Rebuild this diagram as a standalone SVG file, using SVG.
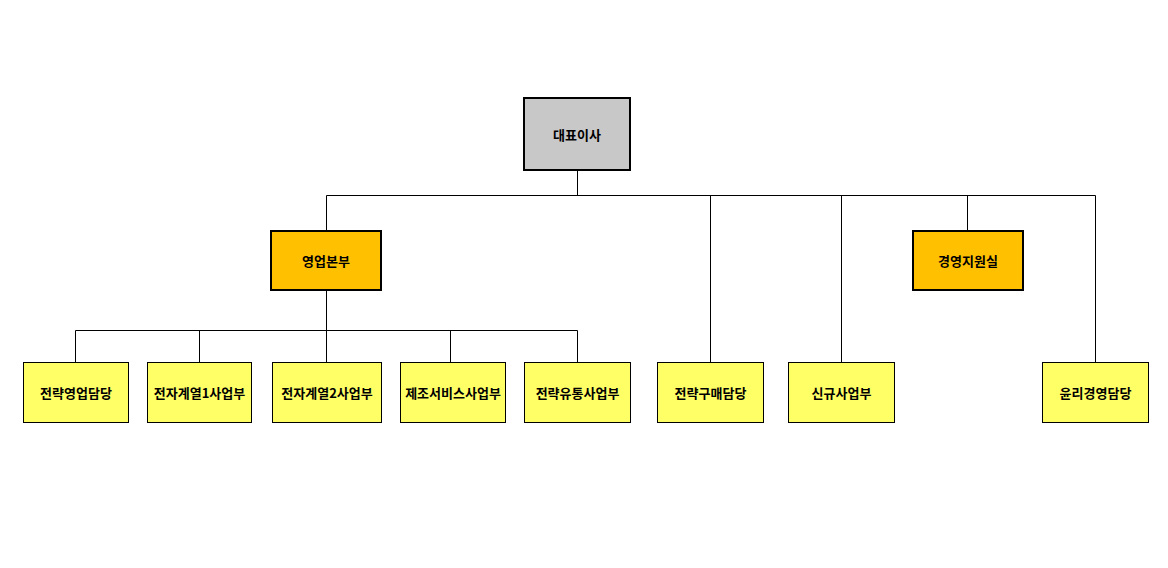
<svg xmlns="http://www.w3.org/2000/svg" width="1168" height="568" viewBox="0 0 1168 568">
<style>
.t{font-family:"Noto Sans CJK KR","Liberation Sans",sans-serif;font-size:13px;font-weight:bold;fill:#000;text-anchor:middle;dominant-baseline:central}
.g{fill:#c8c8c8;stroke:#000;stroke-width:2}
.o{fill:#ffc000;stroke:#000;stroke-width:2}
.y{fill:#ffff66;stroke:#000;stroke-width:1}
.c{stroke:#000;stroke-width:1;fill:none}
</style>
<rect width="1168" height="568" fill="#fff"/>
<g id="connectors" class="c">
<path d="M577.5 170V195.5M326.5 195.5H1095.5M326.5 195.5V231M710.5 195.5V362M841.5 195.5V362M967.5 195.5V231M1095.5 195.5V362"/>
<path d="M326.5 290V330.5M75.5 330.5H577.5M75.5 330.5V362M199.5 330.5V362M326.5 330.5V362M450.5 330.5V362M577.5 330.5V362"/>
</g>
<g id="ceo"><rect class="g" x="524" y="98" width="106" height="72"/><text class="t" x="577" y="134">대표이사</text></g>
<g id="sales"><rect class="o" x="271" y="231" width="110" height="59"/><text class="t" x="326" y="260.5">영업본부</text></g>
<g id="mgmt"><rect class="o" x="913" y="231" width="110" height="59"/><text class="t" x="968" y="260.5">경영지원실</text></g>
<g id="n1"><rect class="y" x="23.5" y="362.5" width="105" height="60"/><text class="t" x="76" y="392">전략영업담당</text></g>
<g id="n2"><rect class="y" x="147.5" y="362.5" width="104" height="60"/><text class="t" x="199.5" y="392">전자계열1사업부</text></g>
<g id="n3"><rect class="y" x="272.5" y="362.5" width="109" height="60"/><text class="t" x="327" y="392">전자계열2사업부</text></g>
<g id="n4"><rect class="y" x="400.5" y="362.5" width="105" height="60"/><text class="t" x="453" y="392">제조서비스사업부</text></g>
<g id="n5"><rect class="y" x="524.5" y="362.5" width="106" height="60"/><text class="t" x="577.5" y="392">전략유통사업부</text></g>
<g id="n6"><rect class="y" x="657.5" y="362.5" width="106" height="60"/><text class="t" x="710.5" y="392">전략구매담당</text></g>
<g id="n7"><rect class="y" x="788.5" y="362.5" width="106" height="60"/><text class="t" x="841.5" y="392">신규사업부</text></g>
<g id="n8"><rect class="y" x="1042.5" y="362.5" width="106" height="60"/><text class="t" x="1095.5" y="392">윤리경영담당</text></g>
</svg>
